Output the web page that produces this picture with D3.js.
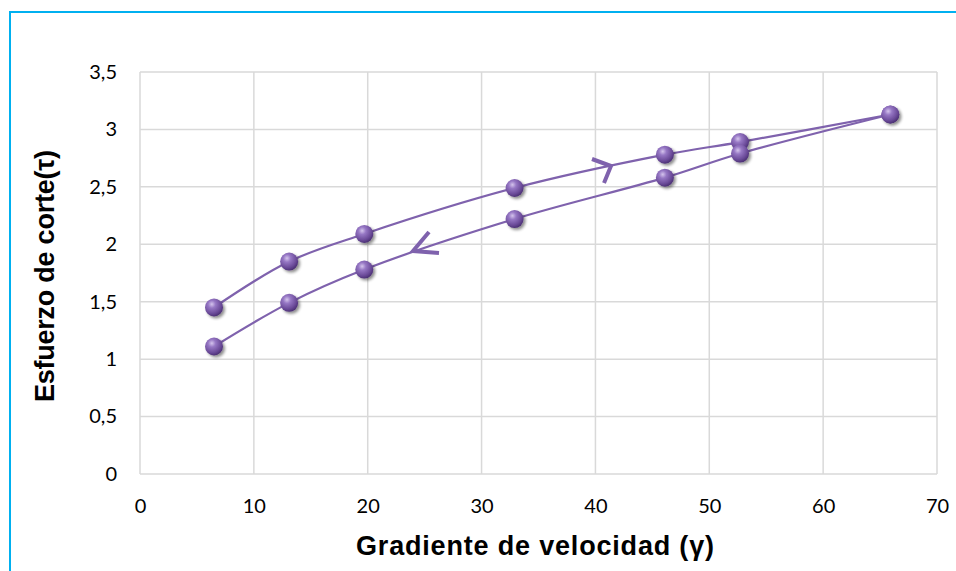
<!DOCTYPE html>
<html>
<head>
<meta charset="utf-8">
<script src="https://cdn.jsdelivr.net/npm/d3@7"></script>
<style>
  html, body { margin: 0; padding: 0; background: #fff; }
  svg { display: block; }
</style>
</head>
<body>
<svg id="chart" width="956" height="571"></svg>
<script>
// Shear-rate sweep: rising branch and falling branch
const shearRateUp = [6.5, 13.1, 19.7, 32.9, 46.1, 52.7, 65.9];
const stressUp = [1.45, 1.85, 2.09, 2.49, 2.78, 2.89, 3.13];
const shearRateDown = [65.9, 52.7, 46.1, 32.9, 19.7, 13.1, 6.5];
const stressDown = [3.13, 2.79, 2.58, 2.22, 1.78, 1.49, 1.11];
const xTicks = [0, 10, 20, 30, 40, 50, 60, 70];
const yTicks = [0, 0.5, 1, 1.5, 2, 2.5, 3, 3.5];
const xTitle = "Gradiente de velocidad (γ)";
const yTitle = "Esfuerzo de corte(τ)";

const svg = d3.select("#chart");
const plot = { left: 140, right: 937, top: 72, bottom: 474 };
const x = d3.scaleLinear().domain([0, 70]).range([plot.left, plot.right]);
const y = d3.scaleLinear().domain([0, 3.5]).range([plot.bottom, plot.top]);
const fmt = d => String(d).replace(".", ",");

const lineColor = "#7f62ad";

// outer frame (only top and left edges fall inside the view)
svg.append("path")
  .attr("d", "M10,600 L10,12 L1000,12")
  .attr("fill", "none")
  .attr("stroke", "#00b0f0")
  .attr("stroke-width", 2);

const defs = svg.append("defs");
const grad = defs.append("radialGradient")
  .attr("id", "ball").attr("cx", "38%").attr("cy", "32%").attr("r", "70%");
grad.append("stop").attr("offset", "0%").attr("stop-color", "#d4c4ec");
grad.append("stop").attr("offset", "30%").attr("stop-color", "#9677c4");
grad.append("stop").attr("offset", "75%").attr("stop-color", "#6a4a98");
grad.append("stop").attr("offset", "100%").attr("stop-color", "#4a2f72");
const shadow = defs.append("filter").attr("id", "shadow")
  .attr("x", "-50%").attr("y", "-50%").attr("width", "200%").attr("height", "200%");
shadow.append("feGaussianBlur").attr("in", "SourceAlpha").attr("stdDeviation", 1.6).attr("result", "b");
shadow.append("feOffset").attr("in", "b").attr("dx", 1.5).attr("dy", 2).attr("result", "o");
shadow.append("feComponentTransfer").attr("in", "o").attr("result", "s")
  .append("feFuncA").attr("type", "linear").attr("slope", 0.45);
const merge = shadow.append("feMerge");
merge.append("feMergeNode").attr("in", "s");
merge.append("feMergeNode").attr("in", "SourceGraphic");

// gridlines
const grid = svg.append("g").attr("stroke", "#d9d9d9").attr("stroke-width", 1.5);
grid.selectAll(".gx").data(xTicks).join("line")
  .attr("x1", d => x(d)).attr("x2", d => x(d))
  .attr("y1", plot.top).attr("y2", plot.bottom);
grid.selectAll(".gy").data(yTicks).join("line")
  .attr("x1", plot.left).attr("x2", plot.right)
  .attr("y1", d => y(d)).attr("y2", d => y(d));

// axis labels
const xAxis = svg.append("g")
  .attr("transform", `translate(0,${plot.bottom})`)
  .call(d3.axisBottom(x).tickValues(xTicks).tickFormat(fmt).tickSize(0).tickPadding(25));
const yAxis = svg.append("g")
  .attr("transform", `translate(${plot.left},0)`)
  .call(d3.axisLeft(y).tickValues(yTicks).tickFormat(fmt).tickSize(0).tickPadding(23));
[xAxis, yAxis].forEach(a => {
  a.select(".domain").remove();
  a.selectAll("text")
    .attr("font-family", "Lato, 'Open Sans', sans-serif")
    .attr("font-size", 20).attr("fill", "#000");
});

// curves
const line = d3.line().x(d => x(d[0])).y(d => y(d[1])).curve(d3.curveCatmullRom.alpha(0.5));
const up = shearRateUp.map((v, i) => [v, stressUp[i]]);
const down = shearRateDown.map((v, i) => [v, stressDown[i]]);
[up, down].forEach(pts => {
  svg.append("path").datum(pts)
    .attr("d", line)
    .attr("fill", "none")
    .attr("stroke", lineColor)
    .attr("stroke-width", 2.2);
});

// direction chevrons
const arrows = svg.append("g")
  .attr("fill", "none").attr("stroke", lineColor)
  .attr("stroke-width", 4).attr("stroke-linejoin", "miter").attr("stroke-linecap", "butt");
arrows.append("path").attr("d", "M592,159 L611,166 L604,183");
arrows.append("path").attr("d", "M429,232 L413,251 L439,253");

// markers
const markers = svg.append("g").attr("filter", "url(#shadow)");
markers.selectAll("circle").data(up.concat(down)).join("circle")
  .attr("cx", d => x(d[0])).attr("cy", d => y(d[1]))
  .attr("r", 9)
  .attr("fill", "url(#ball)");

// axis titles
svg.append("text")
  .attr("x", 535).attr("y", 555)
  .attr("text-anchor", "middle")
  .attr("font-family", "'Liberation Sans', Arial, sans-serif")
  .attr("font-weight", "bold").attr("font-size", 27)
  .attr("textLength", 358).attr("lengthAdjust", "spacing")
  .text(xTitle);
svg.append("text")
  .attr("transform", "translate(54,276) rotate(-90)")
  .attr("text-anchor", "middle")
  .attr("font-family", "'Liberation Sans', Arial, sans-serif")
  .attr("font-weight", "bold").attr("font-size", 27)
  .attr("textLength", 252).attr("lengthAdjust", "spacing")
  .text(yTitle);
</script>
</body>
</html>
